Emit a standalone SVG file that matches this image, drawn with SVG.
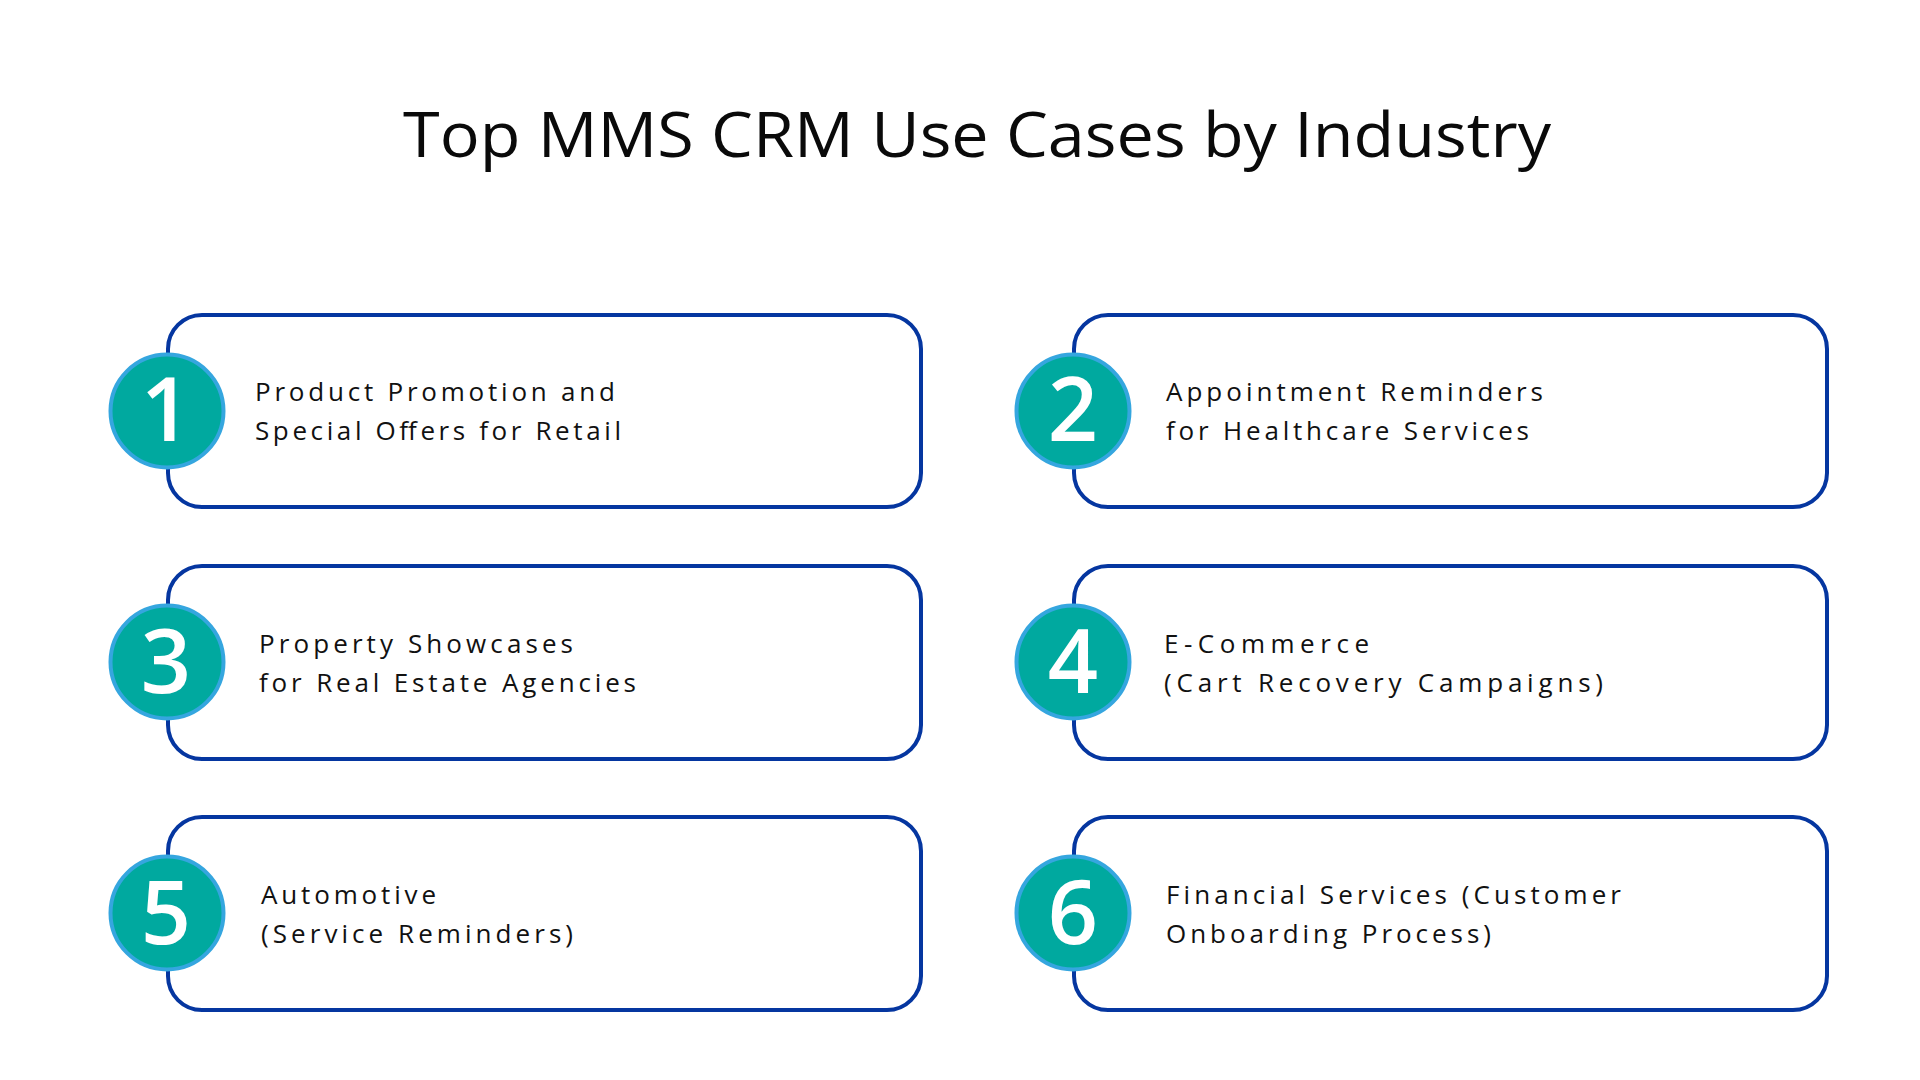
<svg xmlns="http://www.w3.org/2000/svg" width="1920" height="1080" viewBox="0 0 1920 1080">
<style>
.card{fill:#ffffff;stroke:#0536A0;stroke-width:4}
.badge{fill:#00A99F;stroke:#35A6DF;stroke-width:4}
.num{font-family:"Open Sans","Liberation Sans",sans-serif;font-size:88px;font-weight:600;fill:#ffffff;text-anchor:middle}
.lbl{font-family:"Open Sans","Liberation Sans",sans-serif;font-size:26px;fill:#111111}
.title{font-family:"Open Sans","Liberation Sans",sans-serif;font-size:63px;fill:#0a0a0a}
</style>
<rect width="1920" height="1080" fill="#ffffff"/>
<text class="title" x="403" y="157" textLength="1148" lengthAdjust="spacingAndGlyphs">Top MMS CRM Use Cases by Industry</text>
<g id="connectors"></g>
<g id="node1">
<rect class="card" x="168" y="315" width="753" height="192" rx="34" ry="34"/>
<circle class="badge" cx="167" cy="411" r="56.5"/>
<text class="num" x="166" y="441">1</text>
<text class="lbl" x="255" y="401" textLength="360" lengthAdjust="spacing">Product Promotion and</text>
<text class="lbl" x="255" y="440" textLength="366" lengthAdjust="spacing">Special Offers for Retail</text>
</g>
<g id="node2">
<rect class="card" x="1074" y="315" width="753" height="192" rx="34" ry="34"/>
<circle class="badge" cx="1073" cy="411" r="56.5"/>
<text class="num" x="1073" y="441">2</text>
<text class="lbl" x="1166" y="401" textLength="377" lengthAdjust="spacing">Appointment Reminders</text>
<text class="lbl" x="1166" y="440" textLength="363" lengthAdjust="spacing">for Healthcare Services</text>
</g>
<g id="node3">
<rect class="card" x="168" y="566" width="753" height="193" rx="34" ry="34"/>
<circle class="badge" cx="167" cy="662" r="56.5"/>
<text class="num" x="166" y="693">3</text>
<text class="lbl" x="259" y="653" textLength="314" lengthAdjust="spacing">Property Showcases</text>
<text class="lbl" x="259" y="692" textLength="377" lengthAdjust="spacing">for Real Estate Agencies</text>
</g>
<g id="node4">
<rect class="card" x="1074" y="566" width="753" height="193" rx="34" ry="34"/>
<circle class="badge" cx="1073" cy="662" r="56.5"/>
<text class="num" x="1073" y="693">4</text>
<text class="lbl" x="1164" y="653" textLength="205" lengthAdjust="spacing">E-Commerce</text>
<text class="lbl" x="1164" y="692" textLength="439" lengthAdjust="spacing">(Cart Recovery Campaigns)</text>
</g>
<g id="node5">
<rect class="card" x="168" y="817" width="753" height="193" rx="34" ry="34"/>
<circle class="badge" cx="167" cy="913" r="56.5"/>
<text class="num" x="166" y="944">5</text>
<text class="lbl" x="261" y="904" textLength="175" lengthAdjust="spacing">Automotive</text>
<text class="lbl" x="261" y="943" textLength="312" lengthAdjust="spacing">(Service Reminders)</text>
</g>
<g id="node6">
<rect class="card" x="1074" y="817" width="753" height="193" rx="34" ry="34"/>
<circle class="badge" cx="1073" cy="913" r="56.5"/>
<text class="num" x="1073" y="944">6</text>
<text class="lbl" x="1166" y="904" textLength="455" lengthAdjust="spacing">Financial Services (Customer</text>
<text class="lbl" x="1166" y="943" textLength="325" lengthAdjust="spacing">Onboarding Process)</text>
</g>
</svg>
